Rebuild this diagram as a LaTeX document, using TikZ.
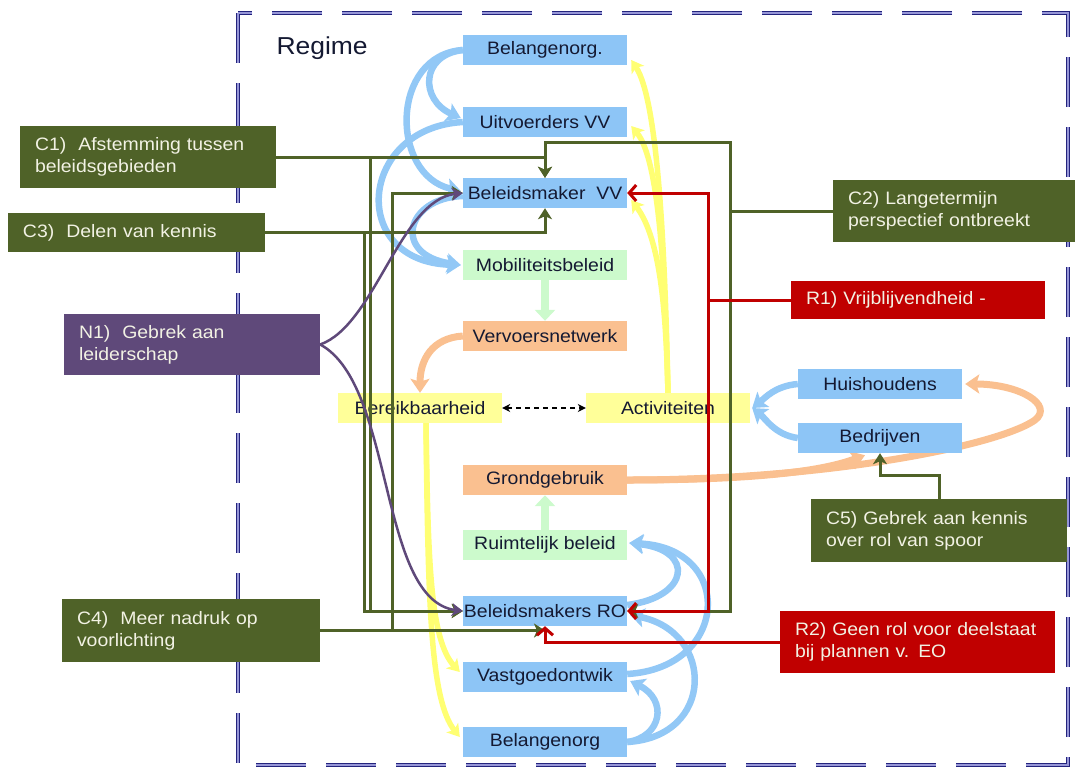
\documentclass[tikz,border=0pt]{standalone}
\usepackage{fontspec}
\setmainfont{Liberation Sans}[FakeStretch=1.08]
\usetikzlibrary{arrows.meta,calc,backgrounds}
\definecolor{boxblue}{RGB}{141,197,246}
\definecolor{arcblue}{RGB}{146,200,246}
\definecolor{boxgreen}{RGB}{204,250,204}
\definecolor{peach}{RGB}{250,192,144}
\definecolor{boxyellow}{RGB}{255,255,153}
\definecolor{arcyellow}{RGB}{255,255,115}
\definecolor{olive}{RGB}{79,98,40}
\definecolor{darkred}{RGB}{192,0,0}
\definecolor{purp}{RGB}{95,73,122}
\definecolor{navyf}{RGB}{35,35,125}
\definecolor{framein}{RGB}{150,150,215}
\definecolor{ntext}{RGB}{20,25,50}
\definecolor{ltext}{RGB}{242,242,228}
\begin{document}
\begin{tikzpicture}[x=1pt,y=-1pt,
  box/.style={rectangle, minimum width=164pt, minimum height=30pt, inner sep=0pt,
    font=\fontsize{18}{22}\selectfont, text=ntext},
  bbox/.style={box, fill=boxblue},
  gbox/.style={box, fill=boxgreen},
  pbox/.style={box, fill=peach},
  ybox/.style={box, fill=boxyellow},
  lbox/.style={rectangle, inner xsep=15pt, inner ysep=0pt, align=left,
    font=\fontsize{18}{22}\selectfont, text=ltext},
  cbox/.style={lbox, fill=olive},
  rbox/.style={lbox, fill=darkred},
  nbox/.style={lbox, fill=purp},
  bluearc/.style={draw=arcblue, line width=6.5pt, -{Stealth[length=14pt,width=19pt,inset=3pt]}},
  peacharc/.style={draw=peach, line width=7pt, -{Stealth[length=14pt,width=19pt,inset=3pt]}},
  yarc/.style={draw=arcyellow, line width=5.5pt, -{Stealth[length=12pt,width=15pt,inset=3pt]}},
  lgarrow/.style={draw=boxgreen, line width=8pt, -{Triangle[length=11pt,width=20pt]}},
  gline/.style={draw=olive, line width=3pt, -{Stealth[length=11pt,width=14pt,inset=3pt]}},
  gplain/.style={draw=olive, line width=3pt},
  rline/.style={draw=darkred, line width=3pt, -{Straight Barb[length=7pt,width=16pt]}},
  rplain/.style={draw=darkred, line width=3pt},
  pline/.style={draw=purp, line width=2.5pt, -{Stealth[length=11pt,width=13pt,inset=3pt]}},
  frame/.style={draw=navyf, line width=1pt, double=framein, double distance=1.6pt, dash pattern=on 50pt off 20pt}
]
\useasboundingbox (0,0) rectangle (1076,769);

% main boxes
\node[bbox] (bo1) at (545,50) {Belangenorg.};
\node[bbox] (uvv) at (545,122) {Uitvoerders VV};
\node[bbox] (bvv) at (545,193) {Beleidsmaker\ \ VV};
\node[gbox] (mob) at (545,265) {Mobiliteitsbeleid};
\node[pbox] (vvn) at (545,336) {Vervoersnetwerk};
\node[ybox] (ber) at (420,408) {Bereikbaarheid};
\node[ybox] (act) at (668,408) {Activiteiten};
\node[pbox] (grond) at (545,480) {Grondgebruik};
\node[gbox] (ruim) at (545,545) {Ruimtelijk beleid};
\node[bbox] (ro) at (545,611) {Beleidsmakers RO};
\node[bbox] (vg) at (545,677) {Vastgoedontwik};
\node[bbox] (bo2) at (545,742) {Belangenorg};
\node[bbox] (hh) at (880,384) {Huishoudens};
\node[bbox] (bd) at (880,438) {Bedrijven};

\node[anchor=west, font=\fontsize{24.5}{28}\selectfont, text=ntext] (regime) at (273,48) {Regime};

% label boxes
\node[cbox, text width=226pt, minimum height=62pt] (c1) at (148,157) {C1)\ \ Afstemming tussen\\beleidsgebieden};
\node[cbox, text width=227pt, minimum height=39pt] (c3) at (136.5,232.5) {C3)\ \ Delen van kennis};
\node[nbox, text width=226pt, minimum height=61pt] (n1) at (192,344.5) {N1)\ \ Gebrek aan\\leiderschap};
\node[cbox, text width=212pt, minimum height=62pt] (c2) at (954,211) {C2) Langetermijn\\perspectief ontbreekt};
\node[rbox, text width=224pt, minimum height=38pt] (r1) at (918,300) {R1) Vrijblijvendheid -};
\node[cbox, text width=226pt, minimum height=63pt] (c5) at (939,530.5) {C5) Gebrek aan kennis\\over rol van spoor};
\node[cbox, text width=228pt, minimum height=63pt] (c4) at (191,630.5) {C4)\ \ Meer nadruk op\\voorlichting};
\node[rbox, text width=245pt, minimum height=62pt] (r2) at (917.5,642) {R2) Geen rol voor deelstaat\\bij plannen v. EO};

\begin{scope}[on background layer]
  \draw[frame] (238,13) rectangle (1068,765);
  % blue arcs top
  \draw[bluearc] (bo1.west) .. controls (420,55) and (420,100) .. ($(uvv.west)+(-2,-4)$);
  \draw[bluearc] (bo1.west) .. controls (390,55) and (390,175) .. ($(bvv.west)+(-2,-2)$);
  \draw[bluearc] (uvv.west) .. controls (358,128) and (348,262) .. ($(mob.west)+(-2,0)$);
  \draw[bluearc] ($(bvv.west)+(0,3)$) .. controls (405,198) and (392,255) .. ($(mob.west)+(-2,0)$);
  % blue arcs bottom
  \draw[bluearc] ($(ro.east)+(0,-6)$) .. controls (690,597) and (695,550) .. ($(ruim.east)+(2,-2)$);
  \draw[bluearc] ($(vg.east)+(0,-3)$) .. controls (730,668) and (735,548) .. ($(ruim.east)+(2,-2)$);
  \draw[bluearc] (bo2.east) .. controls (715,737) and (715,632) .. ($(ro.east)+(3,4)$);
  \draw[bluearc] (bo2.east) .. controls (662,737) and (668,700) .. ($(vg.east)+(3,4)$);
  % blue to activiteiten
  \draw[bluearc] (hh.west) .. controls (775,386) and (765,398) .. ($(act.east)+(2,0)$);
  \draw[bluearc] (bd.west) .. controls (775,435) and (765,418) .. ($(act.east)+(2,0)$);
  % peach
  \draw[peacharc] (vvn.west) .. controls (432,338) and (420,360) .. (ber.north);
  \draw[peacharc] (grond.east) .. controls (830,480) and (1000,445) .. (1035,420) .. controls (1054,405) and (1020,384) .. ($(hh.east)+(3,0)$);
  \draw[peacharc] (grond.east) .. controls (750,480) and (820,472) .. ($(bd.south)+(-15,2)$);
  % yellow
  \draw[yarc] (act.north) .. controls (665,250) and (658,100) .. ($(bo1.east)+(4,10)$);
  \draw[yarc] (act.north) .. controls (665,280) and (660,160) .. ($(uvv.east)+(4,4)$);
  \draw[yarc] (act.north) .. controls (666,320) and (662,240) .. ($(bvv.east)+(4,7)$);
  \draw[yarc] ($(ber.south)+(6,0)$) .. controls (428,560) and (430,640) .. ($(vg.west)+(-3,-5)$);
  \draw[yarc] ($(ber.south)+(6,0)$) .. controls (428,600) and (430,700) .. ($(bo2.west)+(-3,-5)$);
  % light green
  \draw[lgarrow] (mob.south) -- (vvn.north);
  \draw[lgarrow] (ruim.north) -- (grond.south);
\end{scope}

% dashed
\draw[black, line width=1.2pt, dash pattern=on 5pt off 4pt, {Stealth[length=8pt,width=8pt]}-{Stealth[length=8pt,width=8pt]}] (ber.east) -- (act.west);

% green connectors
\coordinate (v1) at (370,611);
\coordinate (v3) at (364,611);
\coordinate (v2) at (730,211);
\coordinate (v4) at (392,193);
\draw[gline] (c1.east) -| (bvv.north);
\draw[gline] (c1.east) -| (v1) -- (ro.west);
\draw[gline] (c3.east) -| (bvv.south);
\draw[gline] (c3.east) -| (v3) -- (ro.west);
\draw[gplain] (c2.west) -- (v2);
\draw[gline] (v2) |- ($(bvv.north)+(0,-35)$) -- (bvv.north);
\draw[gline] (v2) |- (ro.east);
\draw[gline] (c4.east) -- (ro.south |- c4.east);
\draw[gline] (c4.east) -| (v4) -- (bvv.west);
\draw[gline] (c5.north) -- ++(0,-23) -| (bd.south);

% purple
\draw[pline] (n1.east) .. controls (375,325) and (400,200) .. (bvv.west);
\draw[pline] (n1.east) .. controls (395,385) and (378,600) .. (ro.west);

% red
\coordinate (r1j) at (708,300);
\draw[rplain] (r1.west) -- (r1j);
\draw[rline] (r1j) |- (bvv.east);
\draw[rline] (r1j) |- (ro.east);
\draw[rline] (r2.west) -| (ro.south);
\end{tikzpicture}
\end{document}
